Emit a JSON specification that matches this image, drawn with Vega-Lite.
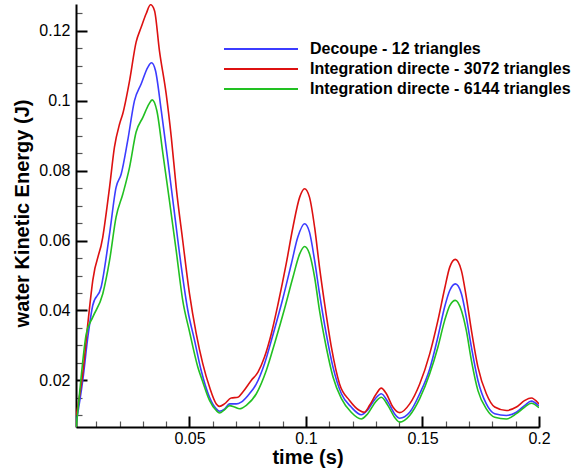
{
  "$schema": "https://vega.github.io/schema/vega-lite/v6.json",
  "width": 463,
  "height": 423,
  "autosize": "none",
  "padding": {"left": 76, "top": 4, "right": 40, "bottom": 44},
  "config": {"font": "Liberation Sans", "view": {"stroke": null}},
  "resolve": {"axis": {"x": "independent", "y": "independent"}},
  "datasets": {
    "red": [
      [0.0014,0.0100],[0.0042,0.0220],[0.0065,0.0370],[0.0085,0.0486],[0.0128,0.0610],[0.0157,0.0752],[0.0178,0.0867],[0.0200,0.0933],[0.0214,0.0963],[0.0243,0.1057],[0.0271,0.1167],[0.0293,0.1210],[0.0314,0.1248],[0.0333,0.1274],[0.0350,0.1257],[0.0371,0.1143],[0.0400,0.1019],[0.0422,0.0895],[0.0443,0.0752],[0.0471,0.0600],[0.0500,0.0448],[0.0529,0.0334],[0.0557,0.0248],[0.0586,0.0181],[0.0615,0.0133],[0.0629,0.0126],[0.0650,0.0133],[0.0679,0.0150],[0.0708,0.0152],[0.0729,0.0167],[0.0765,0.0200],[0.0794,0.0224],[0.0822,0.0267],[0.0851,0.0333],[0.0879,0.0415],[0.0915,0.0533],[0.0944,0.0638],[0.0973,0.0724],[0.0994,0.0748],[0.1015,0.0724],[0.1037,0.0638],[0.1058,0.0524],[0.1080,0.0419],[0.1109,0.0295],[0.1144,0.0190],[0.1187,0.0143],[0.1230,0.0114],[0.1250,0.0109],[0.1273,0.0129],[0.1302,0.0162],[0.1323,0.0178],[0.1345,0.0162],[0.1373,0.0124],[0.1402,0.0108],[0.1445,0.0133],[0.1488,0.0190],[0.1531,0.0276],[0.1566,0.0371],[0.1595,0.0462],[0.1617,0.0524],[0.1641,0.0546],[0.1667,0.0514],[0.1688,0.0438],[0.1710,0.0343],[0.1738,0.0238],[0.1774,0.0162],[0.1810,0.0124],[0.1860,0.0114],[0.1903,0.0124],[0.1939,0.0143],[0.1967,0.0150],[0.2000,0.0133]
    ],
    "blue": [
      [0.0014,0.0080],[0.0042,0.0200],[0.0065,0.0330],[0.0085,0.0415],[0.0121,0.0467],[0.0157,0.0619],[0.0185,0.0752],[0.0207,0.0790],[0.0235,0.0886],[0.0264,0.1000],[0.0293,0.1048],[0.0321,0.1095],[0.0337,0.1108],[0.0354,0.1086],[0.0379,0.0971],[0.0407,0.0829],[0.0436,0.0676],[0.0465,0.0524],[0.0493,0.0400],[0.0522,0.0314],[0.0550,0.0229],[0.0586,0.0152],[0.0615,0.0119],[0.0629,0.0112],[0.0650,0.0118],[0.0672,0.0133],[0.0701,0.0133],[0.0722,0.0138],[0.0751,0.0157],[0.0787,0.0190],[0.0822,0.0248],[0.0858,0.0330],[0.0901,0.0435],[0.0937,0.0533],[0.0965,0.0610],[0.0994,0.0648],[0.1015,0.0624],[0.1037,0.0543],[0.1058,0.0448],[0.1087,0.0333],[0.1116,0.0238],[0.1152,0.0162],[0.1194,0.0124],[0.1237,0.0102],[0.1265,0.0116],[0.1300,0.0150],[0.1323,0.0162],[0.1352,0.0138],[0.1380,0.0105],[0.1402,0.0092],[0.1445,0.0109],[0.1488,0.0162],[0.1531,0.0233],[0.1566,0.0324],[0.1595,0.0410],[0.1617,0.0457],[0.1641,0.0476],[0.1667,0.0448],[0.1688,0.0381],[0.1710,0.0295],[0.1738,0.0200],[0.1774,0.0133],[0.1810,0.0105],[0.1860,0.0100],[0.1903,0.0109],[0.1939,0.0129],[0.1967,0.0141],[0.2000,0.0127]
    ],
    "green": [
      [0.0014,0.0067],[0.0035,0.0210],[0.0057,0.0333],[0.0085,0.0381],[0.0128,0.0448],[0.0157,0.0543],[0.0185,0.0667],[0.0214,0.0733],[0.0243,0.0810],[0.0271,0.0910],[0.0300,0.0952],[0.0326,0.0990],[0.0340,0.1002],[0.0360,0.0971],[0.0386,0.0848],[0.0414,0.0714],[0.0443,0.0571],[0.0471,0.0429],[0.0500,0.0340],[0.0536,0.0238],[0.0555,0.0200],[0.0586,0.0143],[0.0615,0.0114],[0.0629,0.0107],[0.0650,0.0116],[0.0672,0.0128],[0.0693,0.0124],[0.0715,0.0119],[0.0744,0.0129],[0.0787,0.0162],[0.0830,0.0229],[0.0865,0.0305],[0.0908,0.0405],[0.0944,0.0495],[0.0973,0.0562],[0.0994,0.0583],[0.1015,0.0562],[0.1037,0.0495],[0.1058,0.0400],[0.1087,0.0295],[0.1116,0.0210],[0.1152,0.0148],[0.1194,0.0109],[0.1237,0.0090],[0.1265,0.0105],[0.1300,0.0140],[0.1323,0.0152],[0.1352,0.0128],[0.1380,0.0095],[0.1402,0.0081],[0.1445,0.0100],[0.1488,0.0148],[0.1531,0.0219],[0.1566,0.0295],[0.1595,0.0371],[0.1617,0.0414],[0.1641,0.0429],[0.1667,0.0400],[0.1688,0.0343],[0.1710,0.0257],[0.1738,0.0171],[0.1774,0.0119],[0.1810,0.0095],[0.1860,0.0090],[0.1903,0.0105],[0.1939,0.0124],[0.1967,0.0135],[0.2000,0.0122]
    ]
  },
  "layer": [
    {
      "data": {"name": "blue"},
      "transform": [
        {"calculate": "datum[0]", "as": "t"},
        {"calculate": "datum[1]", "as": "E"},
        {"calculate": "'Decoupe - 12 triangles'", "as": "serie"}
      ],
      "mark": {"type": "line", "interpolate": "monotone", "strokeWidth": 1.6, "clip": true},
      "encoding": {
        "x": {
          "field": "t", "type": "quantitative",
          "axis": {
            "orient": "bottom", "title": null, "labels": false, "domain": false, "grid": false,
            "values": [0.01,0.02,0.03,0.04,0.06,0.07,0.08,0.09,0.11,0.12,0.13,0.14,0.16,0.17,0.18,0.19],
            "tickSize": -6, "tickColor": "#555", "tickWidth": 1.2
          }
        },
        "y": {
          "field": "E", "type": "quantitative",
          "axis": {
            "orient": "left", "title": null, "labels": false, "domain": false, "grid": false,
            "values": [0.01,0.015,0.025,0.03,0.035,0.045,0.05,0.055,0.065,0.07,0.075,0.085,0.09,0.095,0.105,0.11,0.115,0.125],
            "tickSize": -6, "tickColor": "#555", "tickWidth": 1.2
          }
        },
        "color": {"field": "serie", "type": "nominal"}
      }
    },
    {
      "data": {"name": "red"},
      "transform": [
        {"calculate": "datum[0]", "as": "t"},
        {"calculate": "datum[1]", "as": "E"},
        {"calculate": "'Integration directe - 3072 triangles'", "as": "serie"}
      ],
      "mark": {"type": "line", "interpolate": "monotone", "strokeWidth": 1.6, "clip": true},
      "encoding": {
        "x": {"field": "t", "type": "quantitative", "axis": null},
        "y": {"field": "E", "type": "quantitative", "axis": null},
        "color": {"field": "serie", "type": "nominal"}
      }
    },
    {
      "data": {"name": "green"},
      "transform": [
        {"calculate": "datum[0]", "as": "t"},
        {"calculate": "datum[1]", "as": "E"},
        {"calculate": "'Integration directe - 6144 triangles'", "as": "serie"}
      ],
      "mark": {"type": "line", "interpolate": "monotone", "strokeWidth": 1.6, "clip": true},
      "encoding": {
        "x": {
          "field": "t", "type": "quantitative",
          "scale": {"domain": [0.0013, 0.2], "nice": false, "zero": false},
          "axis": {
            "orient": "bottom",
            "title": "time (s)",
            "values": [0.05, 0.1, 0.15, 0.2],
            "format": ".2~f",
            "grid": false,
            "domainColor": "black", "domainWidth": 2,
            "tickColor": "black", "tickWidth": 2, "tickSize": -11,
            "labelFont": "Liberation Sans", "labelFontSize": 16, "labelColor": "black",
            "labelPadding": 14, "labelFlush": false, "labelOverlap": false, "labelBound": false,
            "titleFont": "Liberation Sans", "titleFontSize": 20, "titleFontWeight": "bold", "titleColor": "black",
            "titleX": 231.5, "titleY": 20
          }
        },
        "y": {
          "field": "E", "type": "quantitative",
          "scale": {"domain": [0.0067, 0.1276], "nice": false, "zero": false},
          "axis": {
            "orient": "left",
            "title": "water Kinetic Energy (J)",
            "values": [0.02, 0.04, 0.06, 0.08, 0.1, 0.12],
            "format": ".2~f",
            "grid": false,
            "domainColor": "black", "domainWidth": 2,
            "tickColor": "black", "tickWidth": 2, "tickSize": -11,
            "labelFont": "Liberation Sans", "labelFontSize": 16, "labelColor": "black",
            "labelPadding": 17, "labelFlush": false, "labelOverlap": false, "labelBound": false,
            "titleFont": "Liberation Sans", "titleFontSize": 20, "titleFontWeight": "bold", "titleColor": "black",
            "titleX": -44, "titleY": 209
          }
        },
        "color": {
          "field": "serie", "type": "nominal",
          "scale": {
            "domain": ["Decoupe - 12 triangles", "Integration directe - 3072 triangles", "Integration directe - 6144 triangles"],
            "range": ["#3c3cff", "#dd1111", "#22c022"]
          },
          "legend": {
            "orient": "none", "legendX": 177, "legendY": 37,
            "title": null, "padding": 0,
            "symbolType": "M-7.4,0H7.4", "symbolSize": 100, "symbolStrokeWidth": 2,
            "labelOffset": 41, "labelLimit": 0, "labelFont": "Liberation Sans", "labelFontSize": 16, "labelFontWeight": "bold", "labelColor": "black",
            "rowPadding": 4
          }
        }
      }
    }
  ]
}
